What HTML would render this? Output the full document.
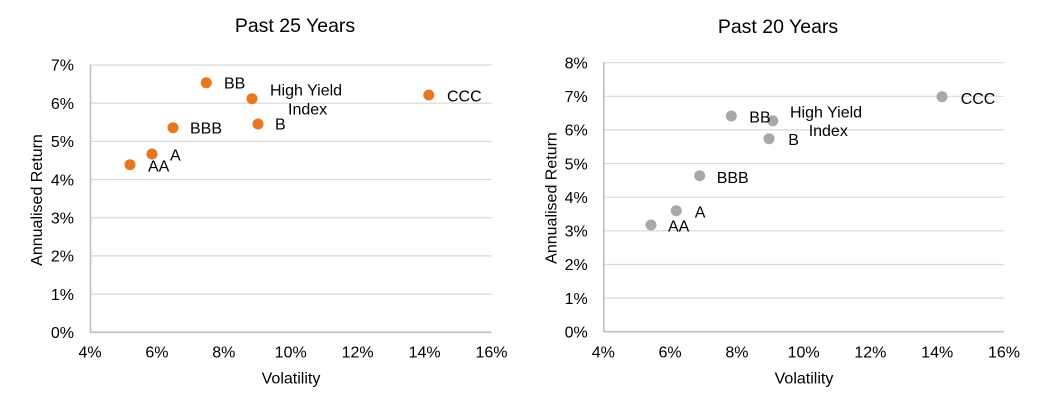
<!DOCTYPE html>
<html><head><meta charset="utf-8"><style>
html,body{margin:0;padding:0;background:#fff;}
svg{display:block;}
text{font-family:"Liberation Sans",Arial,sans-serif;fill:#000;}
</style></head><body>
<svg width="1044" height="410" viewBox="0 0 1044 410" xmlns="http://www.w3.org/2000/svg">
<rect width="1044" height="410" fill="#fff"/>
<!-- LEFT CHART -->
<text x="295" y="32" font-size="19.5" text-anchor="middle">Past 25 Years</text>
<g stroke="#d9d9d9" stroke-width="1.2">
<line x1="90" y1="65" x2="491.5" y2="65"/>
<line x1="90" y1="103.2" x2="491.5" y2="103.2"/>
<line x1="90" y1="141.4" x2="491.5" y2="141.4"/>
<line x1="90" y1="179.6" x2="491.5" y2="179.6"/>
<line x1="90" y1="217.8" x2="491.5" y2="217.8"/>
<line x1="90" y1="255.9" x2="491.5" y2="255.9"/>
<line x1="90" y1="294.1" x2="491.5" y2="294.1"/>
</g>
<g stroke="#bfbfbf" stroke-width="1.6">
<line x1="90.5" y1="64.5" x2="90.5" y2="332.5"/>
<line x1="90" y1="332.3" x2="491.5" y2="332.3"/>
</g>
<g font-size="16" text-anchor="end">
<text x="74" y="70.7">7%</text>
<text x="74" y="108.9">6%</text>
<text x="74" y="147.1">5%</text>
<text x="74" y="185.3">4%</text>
<text x="74" y="223.5">3%</text>
<text x="74" y="261.6">2%</text>
<text x="74" y="299.8">1%</text>
<text x="74" y="338">0%</text>
</g>
<g font-size="16" text-anchor="middle">
<text x="90" y="357.7">4%</text>
<text x="156.9" y="357.7">6%</text>
<text x="223.8" y="357.7">8%</text>
<text x="290.7" y="357.7">10%</text>
<text x="357.6" y="357.7">12%</text>
<text x="424.6" y="357.7">14%</text>
<text x="491.5" y="357.7">16%</text>
<text x="291" y="383.7">Volatility</text>
<text transform="translate(42,200) rotate(-90)" x="0" y="0">Annualised Return</text>
</g>
<g fill="#e87722">
<circle cx="206.3" cy="82.7" r="5.5"/>
<circle cx="252" cy="98.7" r="5.5"/>
<circle cx="428.8" cy="95" r="5.5"/>
<circle cx="173" cy="127.7" r="5.5"/>
<circle cx="258" cy="124" r="5.5"/>
<circle cx="152" cy="154" r="5.5"/>
<circle cx="130" cy="164.7" r="5.5"/>
</g>
<g font-size="16">
<text x="224" y="88.7">BB</text>
<text x="270" y="95.7">High Yield</text>
<text x="288" y="114.7">Index</text>
<text x="447" y="101.7">CCC</text>
<text x="190" y="133.7">BBB</text>
<text x="275" y="129.7">B</text>
<text x="170" y="160.7">A</text>
<text x="148" y="171.7">AA</text>
</g>

<!-- RIGHT CHART -->
<text x="778" y="33" font-size="19.5" text-anchor="middle">Past 20 Years</text>
<g stroke="#d9d9d9" stroke-width="1.2">
<line x1="603.3" y1="62.7" x2="1004" y2="62.7"/>
<line x1="603.3" y1="96.3" x2="1004" y2="96.3"/>
<line x1="603.3" y1="129.9" x2="1004" y2="129.9"/>
<line x1="603.3" y1="163.6" x2="1004" y2="163.6"/>
<line x1="603.3" y1="197.2" x2="1004" y2="197.2"/>
<line x1="603.3" y1="230.8" x2="1004" y2="230.8"/>
<line x1="603.3" y1="264.5" x2="1004" y2="264.5"/>
<line x1="603.3" y1="298.1" x2="1004" y2="298.1"/>
</g>
<g stroke="#bfbfbf" stroke-width="1.6">
<line x1="603.8" y1="62.2" x2="603.8" y2="332"/>
<line x1="603.3" y1="331.7" x2="1004" y2="331.7"/>
</g>
<g font-size="16" text-anchor="end">
<text x="587.7" y="68.4">8%</text>
<text x="587.7" y="102">7%</text>
<text x="587.7" y="135.6">6%</text>
<text x="587.7" y="169.3">5%</text>
<text x="587.7" y="202.9">4%</text>
<text x="587.7" y="236.5">3%</text>
<text x="587.7" y="270.2">2%</text>
<text x="587.7" y="303.8">1%</text>
<text x="587.7" y="337.4">0%</text>
</g>
<g font-size="16" text-anchor="middle">
<text x="603.3" y="357.4">4%</text>
<text x="670.1" y="357.4">6%</text>
<text x="736.9" y="357.4">8%</text>
<text x="803.6" y="357.4">10%</text>
<text x="870.4" y="357.4">12%</text>
<text x="937.2" y="357.4">14%</text>
<text x="1004" y="357.4">16%</text>
<text x="804" y="383.4">Volatility</text>
<text transform="translate(556.5,198) rotate(-90)" x="0" y="0">Annualised Return</text>
</g>
<g fill="#a5a8ac">
<circle cx="942" cy="96.7" r="5.5"/>
<circle cx="731.3" cy="116" r="5.5"/>
<circle cx="772.7" cy="120.7" r="5.5"/>
<circle cx="769" cy="138.7" r="5.5"/>
<circle cx="699.7" cy="175.7" r="5.5"/>
<circle cx="676.3" cy="210.7" r="5.5"/>
<circle cx="651" cy="225" r="5.5"/>
</g>
<g font-size="16">
<text x="960.7" y="104">CCC</text>
<text x="749.3" y="122.7">BB</text>
<text x="790" y="117.4">High Yield</text>
<text x="808.7" y="136">Index</text>
<text x="788.3" y="145">B</text>
<text x="716.7" y="183">BBB</text>
<text x="694.7" y="217.7">A</text>
<text x="668" y="231.4">AA</text>
</g>
</svg>
</body></html>
